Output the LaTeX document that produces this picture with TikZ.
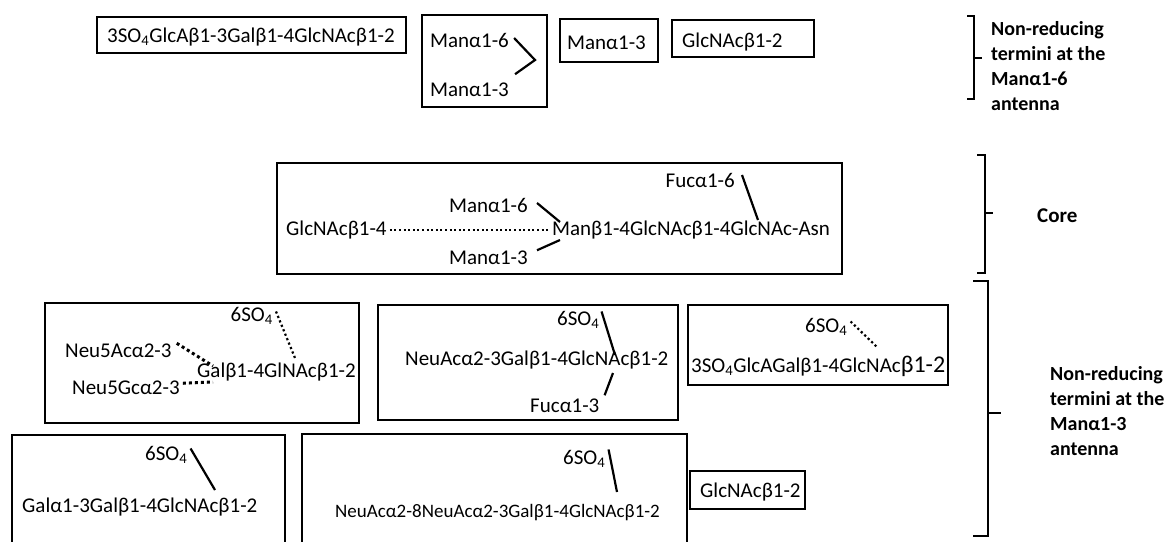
\documentclass[tikz,border=0pt]{standalone}
\usepackage{fontspec}
\setmainfont{Carlito}
\usetikzlibrary{fit}
\newcommand{\sofour}{SO\textsubscript{4}}
\begin{document}
\begin{tikzpicture}[x=1pt,y=-1pt,
  frame/.style={draw, line width=2.4pt, inner sep=0pt},
  sugar/.style={inner sep=0pt, font=\fontsize{21}{25}\selectfont},
  bond/.style={line width=2.2pt},
  finedots/.style={line width=2pt, dash pattern=on 2pt off 2.6pt},
  meddots/.style={line width=2.2pt, dash pattern=on 2.2pt off 2.6pt},
  bigdots/.style={line width=3pt, dash pattern=on 3pt off 3pt},
  brace/.style={line width=2.4pt},
  tag/.style={inner sep=0pt, align=left, font=\bfseries\fontsize{20}{25}\selectfont}]
\useasboundingbox (0,0) rectangle (1166,541);

% ---------- Man alpha1-6 antenna termini ----------
\node[frame, fit={(97,17) (406,53)}] (b1) {};
\node[sugar, anchor=base west] (t1) at (107,42) {3\sofour GlcAβ1-3Galβ1-4GlcNAcβ1-2};

\node[frame, fit={(422,15) (547,107)}] (b2) {};
\node[sugar, anchor=base west] (m6a) at (430,47) {Manα1-6};
\node[sugar, anchor=base west] (m3a) at (430,96) {Manα1-3};
\coordinate (vtx) at (535,60);
\draw[bond] ([shift={(5,-2)}]m6a.east) -- (vtx) -- ([shift={(6,-8)}]m3a.north east);

\node[frame, fit={(560,19) (658,62)}] (b3) {};
\node[sugar, anchor=base west] (t3) at (567,49) {Manα1-3};

\node[frame, fit={(672,20) (814,57)}] (b4) {};
\node[sugar, anchor=base west] (t4) at (682,47) {GlcNAcβ1-2};

\draw[brace] (967,16) -- (974,16) -- (974,99) -- (967,99);
\draw[brace] (974,58) -- (982,58);
% multi-line labels are placed by the baseline of their last line
\node[tag, anchor=base west] (lab1) at (991,110) {Non-reducing\\termini at the\\Manα1-6\\antenna};

% ---------- core ----------
\node[frame, fit={(277,163) (842,274)}] (bc) {};
\node[sugar, anchor=base west] (gn) at (286,235) {GlcNAcβ1-4};
\node[sugar, anchor=base west] (core) at (552,235) {Manβ1-4GlcNAcβ1-4GlcNAc-Asn};
\node[sugar, anchor=base east] (c6) at (528,212) {Manα1-6};
\node[sugar, anchor=base east] (c3) at (528,264) {Manα1-3};
\node[sugar, anchor=base east] (fuc) at (735,187) {Fucα1-6};
\coordinate (cman) at (560,222);
\coordinate (cman2) at (560,240);
\coordinate (casn) at (758,220);
\draw[finedots] ([xshift=3pt]gn.east) -- ([xshift=-2pt]core.west);
\draw[bond] ([shift={(9,-2)}]c6.east) -- (cman);
\draw[bond] ([shift={(9,-7)}]c3.east) -- (cman2);
\draw[bond] ([shift={(7,-5)}]fuc.east) -- (casn);

\draw[brace] (977,155) -- (985,155) -- (985,273) -- (977,273);
\draw[brace] (985,213) -- (993,213);
\node[tag, anchor=base west, font=\bfseries\fontsize{21}{25}\selectfont] (lab2) at (1037,222) {Core};

% ---------- Man alpha1-3 antenna termini ----------
\node[frame, fit={(45,303) (359,423)}] (ba) {};
\node[sugar, anchor=base east] (sa) at (273,321) {6\sofour};
\node[sugar, anchor=base west] (na) at (65,357) {Neu5Acα2-3};
\node[sugar, anchor=base west] (ga) at (197,377) {Galβ1-4GlNAcβ1-2};
\node[sugar, anchor=base west] (ng) at (72,394) {Neu5Gcα2-3};
\coordinate (ga1) at (213,366);
\coordinate (ga2) at (213,382);
\coordinate (ga3) at (295,358);
\draw[bigdots] ([shift={(5,-7)}]na.east) -- (ga1);
\draw[bigdots] ([shift={(3,-4)}]ng.east) -- (ga2);
\draw[meddots] ([shift={(3,-4)}]sa.east) -- (ga3);

\node[frame, fit={(378,305) (678,420)}] (bb) {};
\node[sugar, anchor=base west] (sb) at (557,325) {6\sofour};
\node[sugar, anchor=base west] (nb) at (405,365) {NeuAcα2-3Galβ1-4GlcNAcβ1-2};
\node[sugar, anchor=base west] (fb) at (530,412) {Fucα1-3};
\coordinate (nb1) at (615,355);
\coordinate (nb2) at (613,373);
\draw[bond] ([shift={(2,-8)}]sb.east) -- (nb1);
\draw[bond] (nb2) -- ([shift={(5,-10)}]fb.east);

\node[frame, fit={(688,305) (948,385)}] (bcc) {};
\node[sugar, anchor=base west] (sc) at (805,332) {6\sofour};
\node[sugar, anchor=base west] (gc) at (691,372) {3\sofour GlcAGalβ1-4GlcNAc{\fontsize{24}{24}\selectfont β1-2}};
\coordinate (gc1) at (878,348);
\draw[meddots] ([shift={(3,-5)}]sc.east) -- (gc1);

\node[frame, fit={(12,435) (285,560)}] (bd) {};
\node[sugar, anchor=base west] (sd) at (145,460) {6\sofour};
\node[sugar, anchor=base west] (gd) at (22,512) {Galα1-3Galβ1-4GlcNAcβ1-2};
\coordinate (gd1) at (215,490);
\draw[bond] ([shift={(3,-6)}]sd.east) -- (gd1);

\node[frame, fit={(302,434) (687,560)}] (be) {};
\node[sugar, anchor=base west] (se) at (563,464) {6\sofour};
\node[sugar, anchor=base west, font=\fontsize{19}{23}\selectfont] (ge) at (335,517) {NeuAcα2-8NeuAcα2-3Galβ1-4GlcNAcβ1-2};
\coordinate (ge1) at (617,492);
\draw[bond] ([shift={(3,-9)}]se.east) -- (ge1);

\node[frame, fit={(690,471) (805,509)}] (bf) {};
\node[sugar, anchor=base west] (tf) at (700,497) {GlcNAcβ1-2};

\draw[brace] (973,281) -- (988,281) -- (988,536) -- (973,536);
\draw[brace] (988,413) -- (1001,413);
\node[tag, anchor=base west] (lab3) at (1050,455) {Non-reducing\\termini at the\\Manα1-3\\antenna};
\end{tikzpicture}
\end{document}
